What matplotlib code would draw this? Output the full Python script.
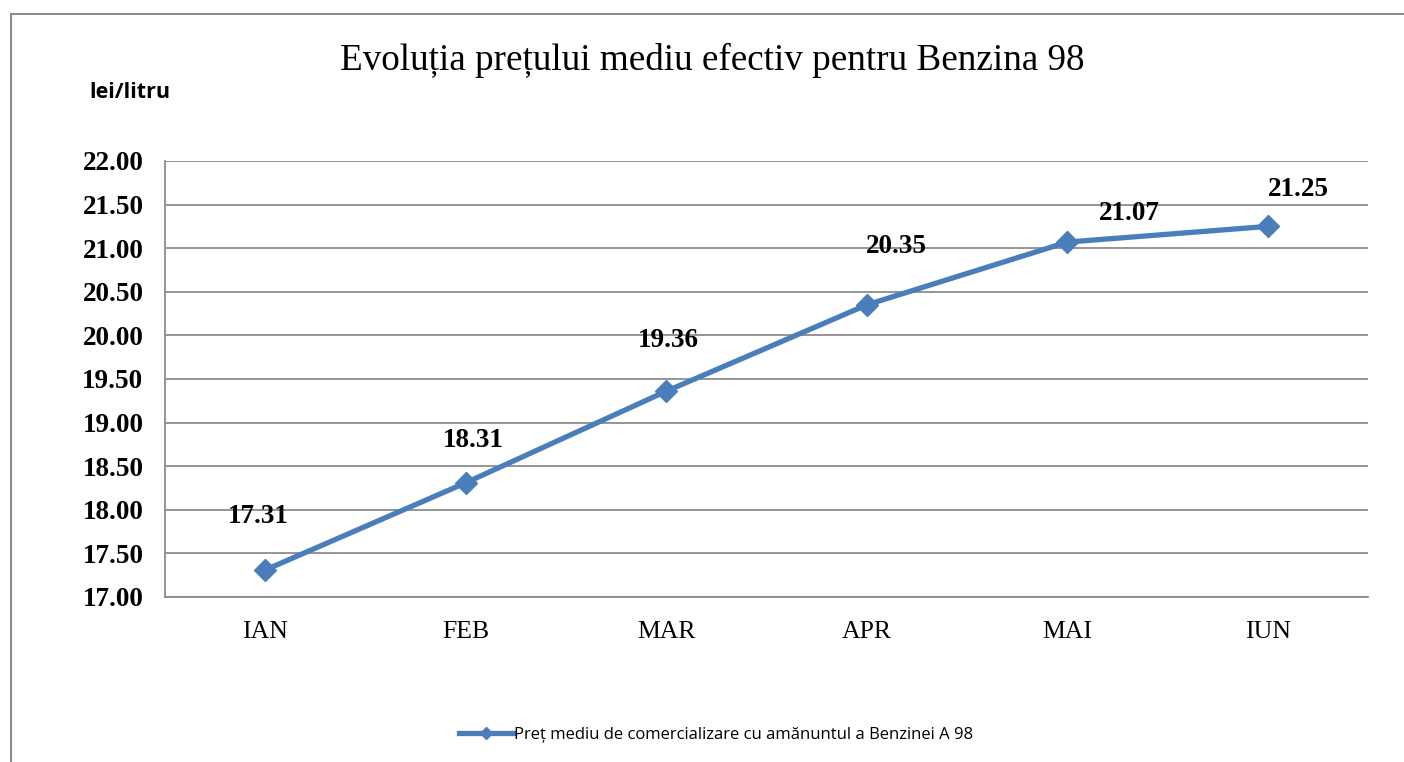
import matplotlib
matplotlib.use("Agg")
import matplotlib.pyplot as plt
from matplotlib.patches import Rectangle

months = ["IAN", "FEB", "MAR", "APR", "MAI", "IUN"]
prices = [17.31, 18.31, 19.36, 20.35, 21.07, 21.25]
yticks = [17.00, 17.50, 18.00, 18.50, 19.00, 19.50, 20.00, 20.50, 21.00, 21.50, 22.00]
title = "Evoluția prețului mediu efectiv pentru Benzina 98"
ylabel = "lei/litru"
series_name = "Preț mediu de comercializare cu amănuntul a Benzinei A 98"

# label offsets in pixels (dx, dy) relative to each point
label_offsets = [(-7, 53), (8, 42), (2, 51), (30, 58), (62, 29), (31, 37)]

W, H, DPI = 1404, 762, 100
fig = plt.figure(figsize=(W / DPI, H / DPI), dpi=DPI)
fig.patch.set_facecolor("white")

# outer chart border
fig.patches.append(Rectangle((11 / W, -0.1), 1.2, 1 - 14 / H + 0.1, transform=fig.transFigure,
                             fill=False, edgecolor="#8c8c8c", linewidth=1.5))

left, right, top, bottom = 165, 1368, 161, 597
ax = fig.add_axes([left / W, 1 - bottom / H, (right - left) / W, (bottom - top) / H])
blue = "#4A7EBB"
x = list(range(len(months)))
ax.plot(x, prices, color=blue, linewidth=3.8, marker="D", markersize=11,
        markerfacecolor=blue, markeredgecolor=blue, label=series_name, zorder=3)

ax.set_xlim(-0.5, len(months) - 0.5)
ax.set_ylim(17.0, 22.0)
ax.set_yticks(yticks)
ax.set_yticklabels([f"{v:.2f}" for v in yticks], fontfamily="Liberation Serif",
                   fontweight="bold", fontsize=19.5)
ax.set_xticks(x)
ax.set_xticklabels(months, fontfamily="Liberation Serif", fontsize=18.5)
ax.tick_params(axis="both", length=0)
ax.tick_params(axis="y", pad=15.5)
ax.tick_params(axis="x", pad=17)
ax.grid(axis="y", color="#8c8c8c", linewidth=1.3)
ax.set_axisbelow(True)
for s in ["top", "right"]:
    ax.spines[s].set_visible(False)
for s in ["left", "bottom"]:
    ax.spines[s].set_color("#8c8c8c")
    ax.spines[s].set_linewidth(1.3)

for xi, v, (dx, dy) in zip(x, prices, label_offsets):
    ax.annotate(f"{v:.2f}", (xi, v), xytext=(dx * 0.72, dy * 0.72), textcoords="offset points",
                ha="center", va="center", fontfamily="Liberation Serif", fontweight="bold",
                fontsize=19.5)

fig.text(712 / W, 1 - 60 / H, title, ha="center", va="center",
         fontfamily="Liberation Serif", fontsize=26.7)
fig.text(89 / W, 1 - 93 / H, ylabel, ha="left", va="center",
         fontfamily="Open Sans", fontweight="bold", fontsize=15.5)

leg = fig.legend(loc="center", bbox_to_anchor=(716 / W, 1 - 735 / H), frameon=False,
                 prop={"family": "Open Sans", "size": 12}, handlelength=3.3,
                 handletextpad=0.05, markerscale=0.6)

fig.savefig("out.png", dpi=DPI)
